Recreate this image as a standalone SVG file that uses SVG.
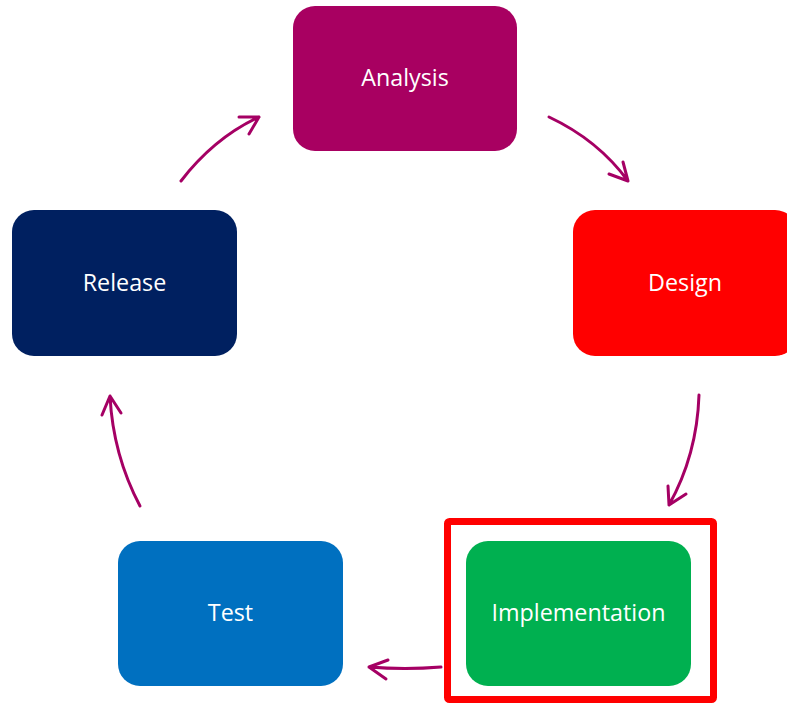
<svg xmlns="http://www.w3.org/2000/svg" width="787" height="704" viewBox="0 0 787 704">
<style>
.box{stroke:none}
.lbl{font-family:"Open Sans","Noto Sans",sans-serif;font-size:23.3px;fill:#ffffff;text-anchor:middle;dominant-baseline:central}
.arr{fill:none;stroke:#A50064;stroke-width:3;stroke-linecap:round;stroke-linejoin:round}
</style>
<rect width="787" height="704" fill="#ffffff"/>
<g id="analysis"><rect class="box" x="293" y="6" width="224" height="145" rx="22" fill="#A80061"/><text class="lbl" x="405" y="77">Analysis</text></g>
<g id="design"><rect class="box" x="573" y="210" width="224" height="146" rx="22" fill="#FF0000"/><text class="lbl" x="685" y="282">Design</text></g>
<g id="implementation"><rect x="447.5" y="521.5" width="266" height="178" fill="none" stroke="#FF0000" stroke-width="7" rx="2"/><rect class="box" x="466" y="541" width="225" height="145" rx="22" fill="#00B050"/><text class="lbl" x="578.5" y="612">Implementation</text></g>
<g id="test"><rect class="box" x="118" y="541" width="225" height="145" rx="22" fill="#0070C0"/><text class="lbl" x="230.5" y="612">Test</text></g>
<g id="release"><rect class="box" x="12" y="210" width="225" height="146" rx="22" fill="#002060"/><text class="lbl" x="124.5" y="282">Release</text></g>
<g id="connectors">
<path class="arr" d="M549,117 Q598,140 628,181 M623,162 L628,181 L609,174"/>
<path class="arr" d="M699,395 Q697,455 669,505 M668,486 L669,505 L686,494"/>
<path class="arr" d="M441,667 Q405,670 369,667 M388,660 L369,667 L386,679"/>
<path class="arr" d="M140,506 Q113,455 110,396 M102,415 L110,396 L121,413"/>
<path class="arr" d="M181,181 Q214,138 259,117 M239,117 L259,117 L249,134"/>
</g>
</svg>
